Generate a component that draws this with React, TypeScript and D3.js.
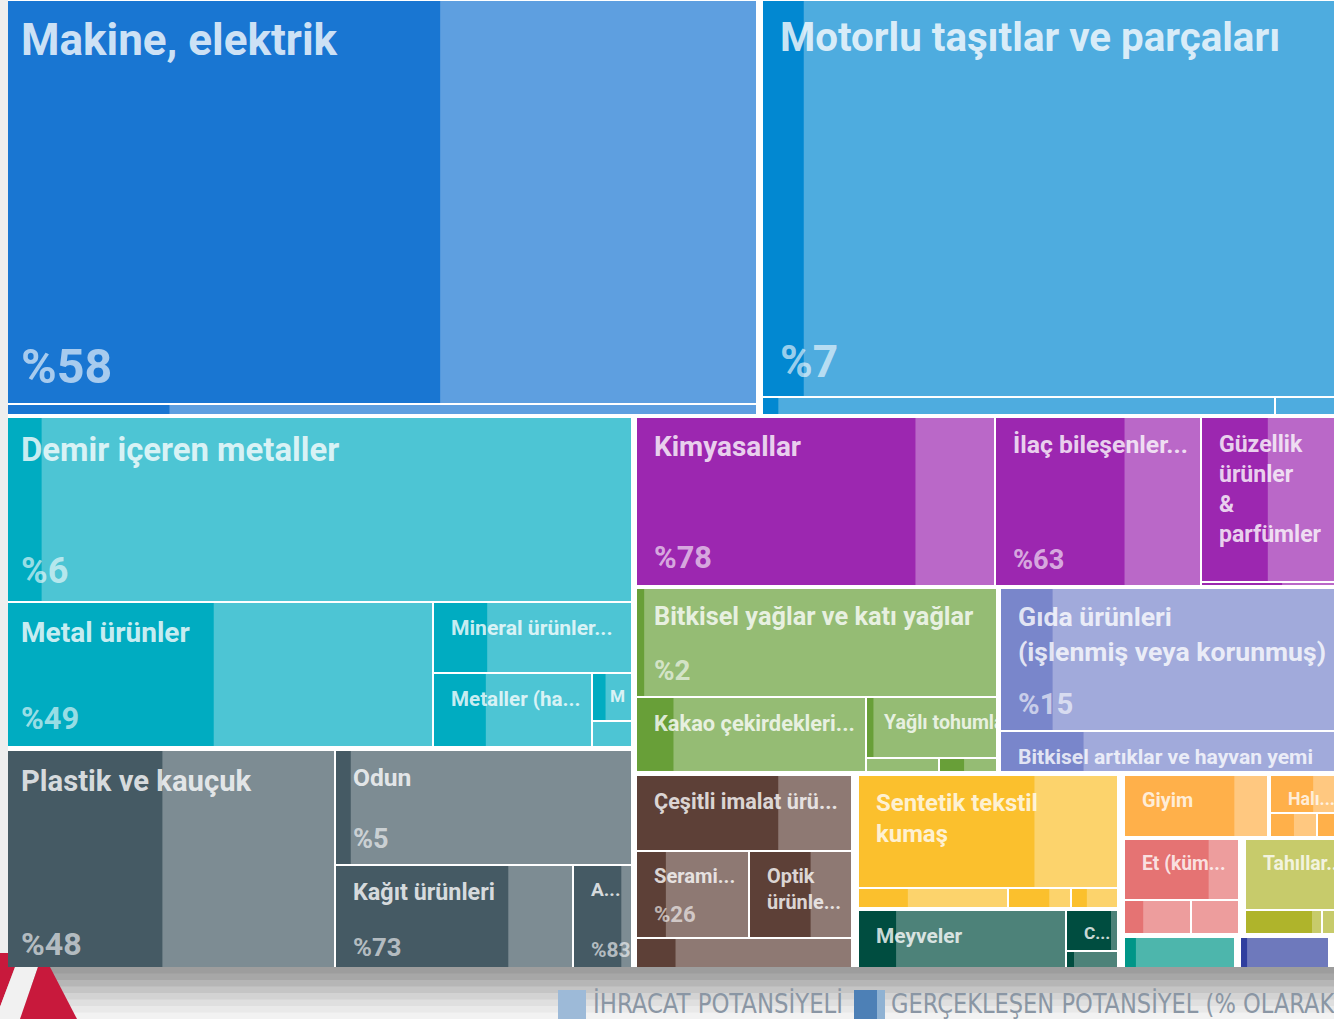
import React, { useMemo } from "react";
import * as d3 from "d3";

// ---------------- DATA ----------------
// Product labels as displayed (line breaks / truncation as in the chart)
const productLabels: string[] = [
  "Makine, elektrik", "",
  "Motorlu taşıtlar ve parçaları", "", "",
  "Demir içeren metaller", "Metal ürünler", "Mineral ürünler...", "Metaller (ha...", "M", "",
  "Plastik ve kauçuk", "Odun", "Kağıt ürünleri", "A...",
  "Kimyasallar", "İlaç bileşenler...", "Güzellik\nürünler\n&\nparfümler", "",
  "Bitkisel yağlar ve katı yağlar", "Kakao çekirdekleri...", "Yağlı tohumlar", "", "",
  "Gıda ürünleri\n(işlenmiş veya korunmuş)", "Bitkisel artıklar ve hayvan yemi",
  "Çeşitli imalat ürü...", "Serami...", "Optik\nürünle...", "",
  "Sentetik tekstil\nkumaş", "", "", "",
  "Meyveler", "C...", "",
  "Giyim", "Halı...", "", "",
  "Et (küm...", "", "",
  "Tahıllar...", "", "",
  "", "", "",
];

// Export potential (area of each cell)
const exportPotential: number[] = [
  292100, 7950,
  222600, 8870, 1230,
  112100, 59650, 13610, 11180, 1810, 1000,
  71640, 33190, 24760, 6140,
  58680, 33670, 23140, 560,
  38180, 16740, 7630, 1060, 840,
  48000, 13760,
  16150, 9670, 8810, 7440,
  28910, 2950, 1240, 920,
  13104, 2130, 1140,
  9060, 2970, 1160, 710,
  7070, 2400, 1720,
  7240, 1970, 610,
  4240, 3440, 620,
];

// Realized potential (% of export potential)
const realizedPct: number[] = [
  58, 22,
  7, 3, 0,
  6, 49, 27, 33, 33, 0,
  48, 5, 73, 83,
  78, 63, 46, 56,
  2, 16, 5, 0, 43,
  15, 24,
  66, 26, 60, 18,
  68, 33, 66, 33,
  18, 88, 14,
  77, 57, 51, 90,
  74, 28, 0,
  0, 88, 0,
  10, 7, 0,
];

// Whether the percentage is printed in the cell
const pctShown: boolean[] = [
  true, false,
  true, false, false,
  true, true, false, false, false, false,
  true, true, true, true,
  true, true, false, false,
  true, false, false, false, false,
  true, false,
  false, true, false, false,
  false, false, false, false,
  false, false, false,
  false, false, false, false,
  false, false, false,
  false, false, false,
  false, false, false,
];

// Sector of each product (index into sectorColors)
const sectorOf: number[] = [
  0, 0,
  1, 1, 1,
  2, 2, 2, 2, 2, 2,
  3, 3, 3, 3,
  4, 4, 4, 4,
  5, 5, 5, 5, 5,
  6, 6,
  7, 7, 7, 7,
  8, 8, 8, 8,
  9, 9, 9,
  10, 10, 10, 10,
  11, 11, 11,
  12, 12, 12,
  13, 14, 15,
];

const legendLabels: string[] = ["İHRACAT POTANSİYELİ", "GERÇEKLEŞEN POTANSİYEL (% OLARAK)"];

// ---------------- STYLE / LAYOUT ----------------
const sectorColors = [
  "#1976d2", "#0288d1", "#00acc1", "#455a64", "#9c27b0", "#689f38", "#7986cb", "#5d4037",
  "#fbc02d", "#004d40", "#ffb04a", "#e57373", "#afb42b", "#009688", "#303f9f", "#8e24aa",
];

type Spec = number | { d: "h" | "v"; g?: number; c: Spec[] };

// nesting of the tiling (d: h = side by side, v = stacked)
const layoutSpec: Spec = {
  d: "v", g: 4, c: [
    { d: "h", g: 7, c: [
      { d: "v", c: [0, 1] },
      { d: "v", c: [2, { d: "h", c: [3, 4] }] },
    ] },
    { d: "h", g: 6, c: [
      { d: "v", g: 5, c: [
        { d: "v", c: [5, { d: "h", c: [6, { d: "v", c: [7, { d: "h", c: [8, { d: "v", c: [9, 10] }] }] }] }] },
        { d: "h", c: [11, { d: "v", c: [12, { d: "h", c: [13, 14] }] }] },
      ] },
      { d: "v", g: 4.5, c: [
        { d: "h", c: [15, 16, { d: "v", c: [17, 18] }] },
        { d: "h", g: 5, c: [
          { d: "v", c: [19, { d: "h", c: [20, { d: "v", c: [21, { d: "h", c: [22, 23] }] }] }] },
          { d: "v", c: [24, 25] },
        ] },
        { d: "h", g: 8, c: [
          { d: "v", c: [26, { d: "h", c: [27, 28] }, 29] },
          { d: "v", g: 4, c: [
            { d: "v", c: [30, { d: "h", c: [31, 32, 33] }] },
            { d: "h", c: [34, { d: "v", c: [35, 36] }] },
          ] },
          { d: "v", g: 4.5, c: [
            { d: "h", g: 4, c: [37, { d: "v", c: [38, { d: "h", c: [39, 40] }] }] },
            { d: "h", g: 8, c: [
              { d: "v", c: [41, { d: "h", c: [42, 43] }] },
              { d: "v", c: [44, { d: "h", c: [45, 46] }] },
            ] },
            { d: "h", g: 7, c: [47, 48, 49] },
          ] },
        ] },
      ] },
    ] },
  ],
};

const W = 1334, H = 1019;
const chartX = 4, chartY = 1, chartW = 1341, chartH = 971;

function build(s: Spec): any {
  if (typeof s === "number") return { leaf: s };
  return { dir: s.d, gap: s.g ?? 2, children: s.c.map(build) };
}

function tile(node: any, x0: number, y0: number, x1: number, y1: number) {
  if (node.data.dir === "h") d3.treemapDice(node, x0, y0, x1, y1);
  else d3.treemapSlice(node, x0, y0, x1, y1);
}

const bandColors = ["#9d9d9d", "#a7a7a7", "#b6b6b6", "#c5c5c5", "#d3d3d3", "#dfdfdf", "#e9e9e9", "#f2f2f2"];

export default function App() {
  const leaves = useMemo(() => {
    const root = d3.hierarchy(build(layoutSpec)).sum((d: any) => (d.leaf !== undefined ? exportPotential[d.leaf] : 0));
    d3.treemap<any>().size([chartW, chartH]).paddingInner((n: any) => n.data.gap).tile(tile as any).round(true)(root as any);
    return root.leaves() as any[];
  }, []);

  const fontSize = d3.scaleLinear().domain([0, 550]).range([15, 44]);

  return (
    <svg width={W} height={H} style={{ position: "absolute", left: 0, top: 0, background: "#fff" }}>
      <rect x={0} y={0} width={W} height={H} fill="#ffffff" />
      <defs>
        {leaves.map((l) => (
          <clipPath key={l.data.leaf} id={`clip${l.data.leaf}`}>
            <rect x={l.x0} y={l.y0} width={l.x1 - l.x0} height={l.y1 - l.y0} />
          </clipPath>
        ))}
      </defs>
      <g transform={`translate(${chartX},${chartY})`}>
        {leaves.map((l) => {
          const i = l.data.leaf as number;
          const dark = sectorColors[sectorOf[i]];
          const light = d3.interpolateRgb(dark, "#ffffff")(0.3);
          const xs = d3.scaleLinear().domain([0, 100]).range([l.x0, l.x1]);
          const w = l.x1 - l.x0, h = l.y1 - l.y0;
          const fs = fontSize(Math.sqrt(w * h));
          const lines = productLabels[i] ? productLabels[i].split("\n") : [];
          return (
            <g key={i}>
              <rect x={l.x0} y={l.y0} width={w} height={h} fill={light} />
              {realizedPct[i] > 0 && (
                <rect x={l.x0} y={l.y0} width={xs(realizedPct[i]) - l.x0} height={h} fill={dark} />
              )}
              <g clipPath={`url(#clip${i})`} fontFamily="Roboto, 'Liberation Sans', sans-serif" fontWeight={700} fill="#ffffff">
                {lines.map((t, k) => (
                  <text key={k} x={l.x0 + 17} y={l.y0 + 12 + 0.95 * fs + k * 1.3 * fs} fontSize={fs} fillOpacity={0.8}>
                    {t}
                  </text>
                ))}
                {pctShown[i] && (
                  <text x={l.x0 + 17} y={l.y1 - 11 - 0.2 * fs} fontSize={fs * 1.1} fillOpacity={0.62}>
                    {`%${realizedPct[i]}`}
                  </text>
                )}
              </g>
            </g>
          );
        })}
      </g>

      {/* left page strip */}
      <rect x={0} y={0} width={8} height={953} fill="#eeeeee" />

      {/* bottom overlay bands */}
      {bandColors.map((c, k) => (
        <rect key={k} x={0} y={967 + k * 6.5} width={W} height={7} fill={c} />
      ))}

      {/* red logo fragment */}
      <polygon points="0,953 8,953 8,967 15,967 0,1007" fill="#c8193c" />
      <polygon points="15,967 38,967 20,1019 0,1019 0,1007" fill="#f1f1f1" />
      <polygon points="38,967 50,967 77,1019 20,1019" fill="#c8193c" />

      {/* legend */}
      <rect x={558} y={990} width={28} height={29} fill="#9dbad8" />
      <text x={593} y={1013} fontSize={27} fill="#8a96a4" fontFamily="'Liberation Sans Narrow', 'DejaVu Sans Condensed', sans-serif"
        textLength={250} lengthAdjust="spacingAndGlyphs">{legendLabels[0]}</text>
      <rect x={854} y={990} width={23} height={29} fill="#4d80b6" />
      <rect x={877} y={990} width={8} height={29} fill="#8fb2d3" />
      <text x={891} y={1013} fontSize={27} fill="#8a96a4" fontFamily="'Liberation Sans Narrow', 'DejaVu Sans Condensed', sans-serif"
        textLength={452} lengthAdjust="spacingAndGlyphs">{legendLabels[1]}</text>
    </svg>
  );
}
